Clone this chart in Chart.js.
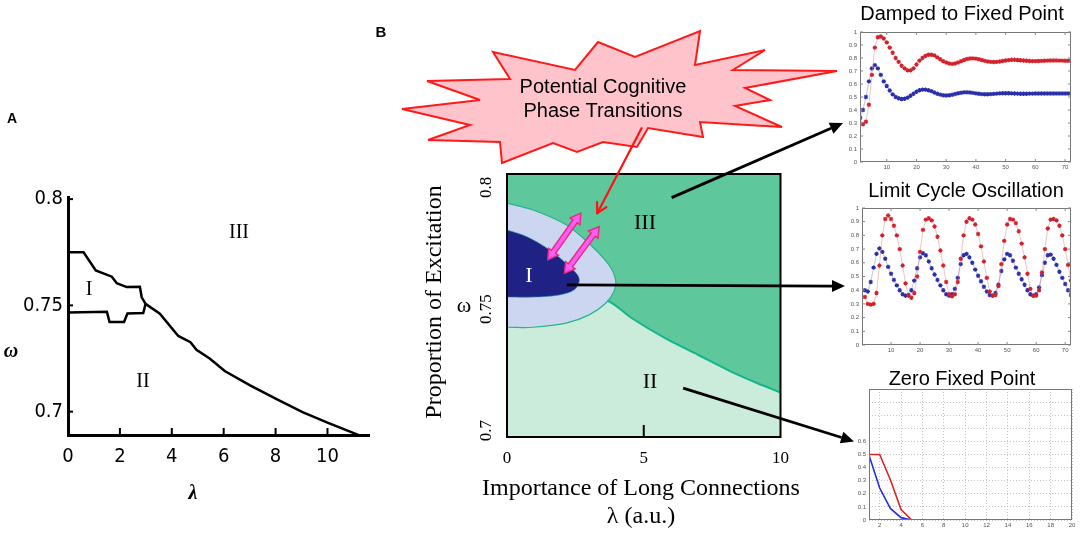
<!DOCTYPE html>
<html>
<head>
<meta charset="utf-8">
<script src="https://cdn.jsdelivr.net/npm/chart.js@4.4.1/dist/chart.umd.min.js"></script>
<style>
  body { margin: 0; width: 1084px; height: 535px; background: #fff; position: relative; overflow: hidden; }
  canvas { position: absolute; }
  .t { position: absolute; white-space: nowrap; line-height: 1; transform: translate(-50%, -50%); }
  .serif { font-family: "Liberation Serif", "Times New Roman", serif; }
  .sans { font-family: "Liberation Sans", Arial, sans-serif; }
</style>
</head>
<body>

<svg id="burst" width="1084" height="535" style="position:absolute;left:0;top:0">
  <polygon fill="#ffc3cc" stroke="#ff1a1a" stroke-width="2" stroke-linejoin="miter"
    points="402,109 480,100 427,81 510,79 493,52 575,70 598,42 635,57 700,31 695,65 765,50 733,70 837,71 745,88 770,100 735,106 782,127 700,122 703,137 648,128 637,147 603,142 577,152 553,143 502,163 500,142 428,140 470,125"/>
</svg>

<canvas id="chartA" width="380" height="300" style="left:0;top:180px"></canvas>
<canvas id="chartB" width="330" height="320" style="left:470px;top:150px"></canvas>
<canvas id="chartDamped" width="244" height="150" style="left:840px;top:22px"></canvas>
<canvas id="chartLimit" width="244" height="155" style="left:840px;top:200px"></canvas>
<canvas id="chartZero" width="244" height="150" style="left:840px;top:380px"></canvas>
<canvas id="overlay" width="1084" height="535" style="left:0;top:0;pointer-events:none"></canvas>

<div class="t sans" style="left:12px;top:118px;font-size:14px;font-weight:bold">A</div>
<div class="t sans" style="left:381px;top:31px;font-size:15px;font-weight:bold">B</div>

<div class="t serif" style="left:239px;top:231px;font-size:20px">III</div>
<div class="t serif" style="left:89px;top:288px;font-size:20px">I</div>
<div class="t serif" style="left:143px;top:380px;font-size:20px">II</div>
<div class="t serif" style="left:11px;top:350px;font-size:20px;font-style:italic;font-weight:bold">ω</div>
<div class="t serif" style="left:193px;top:492px;font-size:20px;font-style:italic;font-weight:bold">λ</div>

<div class="t sans" style="left:603px;top:86px;font-size:20px">Potential Cognitive</div>
<div class="t sans" style="left:603px;top:110px;font-size:20px">Phase Transitions</div>

<div class="t serif" style="left:529px;top:275px;font-size:22px;color:#fff">I</div>
<div class="t serif" style="left:645px;top:222px;font-size:22px">III</div>
<div class="t serif" style="left:650px;top:381px;font-size:22px">II</div>
<div class="t serif" style="left:641px;top:487px;font-size:24px">Importance of Long Connections</div>
<div class="t serif" style="left:641px;top:515px;font-size:24px">λ (a.u.)</div>
<div class="t serif" style="left:433px;top:302px;font-size:24px;transform:translate(-50%,-50%) rotate(-90deg)">Proportion of Excitation</div>
<div class="t serif" style="left:464px;top:305px;font-size:22px">ω</div>

<div class="t sans" style="left:962px;top:13px;font-size:20px">Damped to Fixed Point</div>
<div class="t sans" style="left:966px;top:190px;font-size:20px">Limit Cycle Oscillation</div>
<div class="t sans" style="left:962px;top:378px;font-size:20px">Zero Fixed Point</div>

<script>
// ---- panel A: phase boundaries (lambda, omega)
const upperILambda = [0, 0.6, 1.07, 1.69, 1.88, 2.26, 2.77, 2.84, 2.99];
const upperIOmega = [0.775, 0.775, 0.7664, 0.7635, 0.7604, 0.7586, 0.7587, 0.7538, 0.7507];
const lowerILambda = [0, 1.5, 1.6, 2.16, 2.29, 2.9, 2.99];
const lowerIOmega = [0.7467, 0.747, 0.7422, 0.7422, 0.7462, 0.7464, 0.7507];
const mainLambda = [2.99, 3.54, 4.25, 4.72, 4.95, 5.46, 6.04, 7.0, 8.02, 9.04, 10.0, 11.28];
const mainOmega = [0.7507, 0.7461, 0.7356, 0.7327, 0.7291, 0.725, 0.7191, 0.7125, 0.706, 0.6998, 0.6948, 0.6886];
const ticksALambda = [0, 2, 4, 6, 8, 10];
const ticksAOmega = [0.7, 0.75, 0.8];

// ---- panel B: schematic regions (lambda, omega)
const borderIIIIILambda = [0, 2, 3.73, 4.57, 5.78, 6.98, 8.19, 9.16, 10];
const borderIIIIIOmega = [0.765, 0.759, 0.7531, 0.7462, 0.738, 0.7312, 0.7243, 0.7195, 0.7157];
const haloLambda = [0, 0.95, 2.16, 3.12, 3.73, 3.97, 3.91, 3.61, 3.0, 2.16, 0.95, 0];
const haloOmega = [0.7935, 0.7907, 0.7846, 0.7756, 0.7681, 0.762, 0.7572, 0.7524, 0.7476, 0.7442, 0.7425, 0.7425];
const regionILambda = [0, 0.71, 1.56, 2.16, 2.58, 2.64, 2.46, 1.92, 0.95, 0];
const regionIOmega = [0.7825, 0.7798, 0.7743, 0.7688, 0.764, 0.7613, 0.7579, 0.7558, 0.7549, 0.7549];
const ticksBLambda = [0, 5, 10];
const ticksBOmega = [0.7, 0.75, 0.8];

// ---- right column: time series
const dampedRed = [0.34, 0.29, 0.31, 0.44, 0.67, 0.88, 0.96, 0.965, 0.95, 0.92,
  0.88, 0.84, 0.80, 0.77, 0.74, 0.72, 0.705, 0.705, 0.72, 0.75,
  0.78, 0.80, 0.815, 0.825, 0.825, 0.82, 0.805, 0.79, 0.775, 0.765,
  0.758, 0.755, 0.758, 0.765, 0.775, 0.785, 0.792, 0.796, 0.797, 0.795,
  0.79, 0.785, 0.778, 0.773, 0.77, 0.769, 0.77, 0.773, 0.777, 0.781,
  0.784, 0.786, 0.786, 0.785, 0.783, 0.781, 0.779, 0.777, 0.776, 0.776,
  0.777, 0.778, 0.779, 0.78, 0.781, 0.781, 0.781, 0.78, 0.78, 0.779, 0.779, 0.779];
const dampedBlue = [0.34, 0.40, 0.50, 0.62, 0.72, 0.745, 0.72, 0.67, 0.62, 0.585,
  0.55, 0.52, 0.50, 0.49, 0.485, 0.487, 0.495, 0.51, 0.525, 0.54,
  0.552, 0.557, 0.557, 0.552, 0.545, 0.535, 0.525, 0.518, 0.513, 0.512,
  0.513, 0.517, 0.523, 0.529, 0.533, 0.536, 0.536, 0.535, 0.532, 0.528,
  0.525, 0.522, 0.521, 0.521, 0.522, 0.524, 0.526, 0.528, 0.529, 0.529,
  0.529, 0.528, 0.527, 0.526, 0.525, 0.525, 0.525, 0.526, 0.526, 0.527,
  0.527, 0.527, 0.527, 0.527, 0.527, 0.527, 0.527, 0.527, 0.527, 0.527, 0.527, 0.527];
const limitRed = [0.35, 0.30, 0.295, 0.30, 0.38, 0.58, 0.80, 0.92, 0.945, 0.92,
  0.87, 0.80, 0.70, 0.58, 0.45, 0.36, 0.345, 0.38, 0.50, 0.68,
  0.84, 0.915, 0.925, 0.91, 0.865, 0.79, 0.69, 0.58, 0.46, 0.37,
  0.355, 0.37, 0.46, 0.63, 0.80, 0.90, 0.925, 0.915, 0.88, 0.81,
  0.72, 0.61, 0.49, 0.39, 0.36, 0.365, 0.43, 0.59, 0.76, 0.88,
  0.92, 0.915, 0.89, 0.83, 0.74, 0.64, 0.52, 0.41, 0.36, 0.36,
  0.40, 0.53, 0.70, 0.85, 0.915, 0.92, 0.91, 0.87, 0.80, 0.70, 0.585, 0.47];
const limitBlue = [0.40, 0.39, 0.46, 0.565, 0.665, 0.705, 0.68, 0.63, 0.57, 0.52,
  0.475, 0.435, 0.40, 0.37, 0.36, 0.365, 0.40, 0.47, 0.56, 0.64,
  0.67, 0.655, 0.61, 0.56, 0.515, 0.475, 0.435, 0.40, 0.37, 0.36,
  0.37, 0.41, 0.49, 0.59, 0.655, 0.665, 0.64, 0.60, 0.55, 0.505,
  0.465, 0.425, 0.39, 0.365, 0.36, 0.38, 0.44, 0.54, 0.625, 0.665,
  0.655, 0.615, 0.565, 0.52, 0.48, 0.44, 0.40, 0.37, 0.36, 0.37,
  0.42, 0.51, 0.60, 0.655, 0.66, 0.63, 0.585, 0.535, 0.49, 0.445, 0.40, 0.365];
const zeroRed = [0.5, 0.5, 0.307, 0.08, 0, 0, 0, 0, 0, 0, 0, 0, 0];
const zeroBlue = [0.495, 0.244, 0.088, 0.018, 0, 0, 0, 0];
const ticksTime = [10, 20, 30, 40, 50, 60, 70];
const ticksZeroTime = [2, 4, 6, 8, 10, 12, 14, 16, 18, 20];

const SERIF = '"Liberation Serif", "Times New Roman", serif';
const NARROW = '"Liberation Sans Narrow", "Arial Narrow", "DejaVu Sans Condensed", sans-serif';
const SANS = '"Liberation Sans", Arial, sans-serif';

function zip(xs, ys) { return xs.map((x, i) => ({ x: x, y: ys[i] })); }
function series(vals) { return vals.map((v, i) => ({ x: i + 1, y: v })); }
function fixTicks(list) { return function (s) { s.ticks = list.map(v => ({ value: v })); }; }

const quiet = { legend: { display: false }, tooltip: { enabled: false } };

// ---------------- panel A
const insideTicksA = {
  id: 'insideTicksA',
  afterDraw(chart) {
    const ctx = chart.ctx, a = chart.chartArea, sx = chart.scales.x, sy = chart.scales.y;
    ctx.save();
    ctx.strokeStyle = '#000';
    ctx.lineWidth = 2;
    ticksALambda.slice(1).forEach(v => {
      const px = sx.getPixelForValue(v);
      ctx.beginPath(); ctx.moveTo(px, a.bottom); ctx.lineTo(px, a.bottom - 7); ctx.stroke();
    });
    ticksAOmega.forEach(v => {
      const py = sy.getPixelForValue(v);
      ctx.beginPath(); ctx.moveTo(a.left, py); ctx.lineTo(a.left + 5, py); ctx.stroke();
    });
    ctx.restore();
  }
};

const lineA = { showLine: true, borderColor: '#000', borderWidth: 2.5, pointRadius: 0, fill: false };
const chartA = new Chart(document.getElementById('chartA'), {
  type: 'scatter',
  data: {
    datasets: [
      Object.assign({ data: zip(upperILambda, upperIOmega) }, lineA),
      Object.assign({ data: zip(lowerILambda, lowerIOmega) }, lineA),
      Object.assign({ data: zip(mainLambda, mainOmega) }, lineA)
    ]
  },
  options: {
    responsive: false, animation: false,
    plugins: quiet,
    layout: { padding: { top: 13, right: 11, left: 0, bottom: 0 } },
    scales: {
      x: {
        type: 'linear', min: 0, max: 11.6,
        afterBuildTicks: fixTicks(ticksALambda),
        afterFit: s => { s.height = 45; },
        grid: { display: false, drawTicks: false },
        border: { display: true, color: '#000', width: 3 },
        ticks: { color: '#000', padding: 10, font: { family: NARROW, size: 20 }, callback: v => String(v) }
      },
      y: {
        min: 0.689, max: 0.801,
        afterBuildTicks: fixTicks(ticksAOmega),
        afterFit: s => { s.width = 68; },
        grid: { display: false, drawTicks: false },
        border: { display: true, color: '#000', width: 3 },
        ticks: { color: '#000', padding: 5, font: { family: NARROW, size: 20 }, callback: v => String(v) }
      }
    }
  },
  plugins: [insideTicksA]
});

// ---------------- panel B
const frameB = {
  id: 'frameB',
  afterDraw(chart) {
    const ctx = chart.ctx, a = chart.chartArea, sx = chart.scales.x, sy = chart.scales.y;
    ctx.save();
    ctx.strokeStyle = '#000';
    ctx.lineWidth = 2;
    ctx.strokeRect(a.left, a.top, a.right - a.left, a.bottom - a.top);
    const px = sx.getPixelForValue(5);
    ctx.beginPath(); ctx.moveTo(px, a.bottom); ctx.lineTo(px, a.bottom - 12); ctx.stroke();
    ctx.fillStyle = '#000';
    ctx.font = '17px ' + SERIF;
    ctx.textAlign = 'center';
    ctx.textBaseline = 'middle';
    ticksBOmega.forEach(v => {
      ctx.save();
      ctx.translate(a.left - 20, sy.getPixelForValue(v));
      ctx.rotate(-Math.PI / 2);
      ctx.fillText(String(v), 0, 0);
      ctx.restore();
    });
    ctx.restore();
  }
};

const chartB = new Chart(document.getElementById('chartB'), {
  type: 'scatter',
  data: {
    datasets: [
      { data: zip(regionILambda, regionIOmega), showLine: true, fill: 'shape', tension: 0.35,
        backgroundColor: '#1f2184', borderColor: 'rgba(40,150,170,0.6)', borderWidth: 1, pointRadius: 0, order: 1 },
      { data: zip(haloLambda, haloOmega), showLine: true, fill: 'shape', tension: 0.35,
        backgroundColor: '#cdd6f1', borderColor: '#26b48e', borderWidth: 1.2, pointRadius: 0, order: 2 },
      { data: zip(borderIIIIILambda, borderIIIIIOmega), showLine: true, fill: 'start', tension: 0.3,
        backgroundColor: '#cbecdb', borderColor: '#14b58c', borderWidth: 2, pointRadius: 0, order: 3 },
      { data: zip(borderIIIIILambda, borderIIIIIOmega), showLine: true, fill: 'end', tension: 0.3,
        backgroundColor: '#5ec79b', borderColor: 'rgba(0,0,0,0)', borderWidth: 0, pointRadius: 0, order: 4 }
    ]
  },
  options: {
    responsive: false, animation: false,
    plugins: quiet,
    layout: { padding: { top: 24, right: 16.7, left: 0, bottom: 0 } },
    scales: {
      x: {
        type: 'linear', min: 0, max: 10,
        afterBuildTicks: fixTicks(ticksBLambda),
        afterFit: s => { s.height = 33; },
        grid: { display: false, drawTicks: false },
        border: { display: false },
        ticks: { color: '#000', padding: 11, font: { family: SERIF, size: 17 }, callback: v => String(v) }
      },
      y: {
        min: 0.6974, max: 0.8055,
        afterBuildTicks: fixTicks(ticksBOmega),
        afterFit: s => { s.width = 37; },
        grid: { display: false, drawTicks: false },
        border: { display: false },
        ticks: { display: false }
      }
    }
  },
  plugins: [frameB]
});

// ---------------- right column
const boxPlot = {
  id: 'boxPlot',
  afterDraw(chart, args, opts) {
    const ctx = chart.ctx, a = chart.chartArea;
    ctx.save();
    ctx.strokeStyle = '#777';
    ctx.lineWidth = 1;
    ctx.strokeRect(a.left + 0.5, a.top + 0.5, a.right - a.left - 1, a.bottom - a.top - 1);
    if (opts.inside) {
      ctx.strokeStyle = '#888';
      chart.scales.x.ticks.forEach(t => {
        const px = chart.scales.x.getPixelForValue(t.value);
        ctx.beginPath(); ctx.moveTo(px, a.bottom); ctx.lineTo(px, a.bottom - 3); ctx.stroke();
        ctx.beginPath(); ctx.moveTo(px, a.top); ctx.lineTo(px, a.top + 3); ctx.stroke();
      });
      chart.scales.y.ticks.forEach(t => {
        const py = chart.scales.y.getPixelForValue(t.value);
        ctx.beginPath(); ctx.moveTo(a.left, py); ctx.lineTo(a.left + 3, py); ctx.stroke();
        ctx.beginPath(); ctx.moveTo(a.right, py); ctx.lineTo(a.right - 3, py); ctx.stroke();
      });
    }
    ctx.restore();
  }
};

function smallScales(xMin, xMax, xTicks, yWidth, maxLabel, gridOn) {
  const tickFont = { family: SANS, size: 6 };
  return {
    x: {
      type: 'linear', min: xMin, max: xMax,
      afterBuildTicks: fixTicks(xTicks),
      afterFit: s => { s.height = 10; },
      grid: { display: gridOn, color: '#c4c4c4', drawTicks: false },
      border: { display: false, dash: [1, 2] },
      ticks: { color: '#555', padding: 2, maxRotation: 0, font: tickFont, callback: v => String(v) }
    },
    y: {
      min: 0, max: 1,
      ticks: { stepSize: 0.1, color: '#555', padding: 3, font: tickFont,
        callback: v => (v > maxLabel + 1e-6 ? '' : String(+v.toFixed(1))) },
      afterFit: s => { s.width = yWidth; },
      grid: { display: gridOn, color: '#c4c4c4', drawTicks: false },
      border: { display: false, dash: [1, 2] }
    }
  };
}

function markerSet(vals, mark, line) {
  return { data: series(vals), showLine: true, borderColor: line, borderWidth: 0.8,
    pointStyle: 'star', pointRadius: 2.2, pointBorderColor: mark, pointBorderWidth: 1.1,
    pointBackgroundColor: mark };
}

const chartDamped = new Chart(document.getElementById('chartDamped'), {
  type: 'scatter',
  data: { datasets: [
    markerSet(dampedRed, '#d3202a', 'rgba(225,120,120,0.55)'),
    markerSet(dampedBlue, '#2a2ea8', 'rgba(120,120,210,0.55)')
  ] },
  options: { responsive: false, animation: false, plugins: Object.assign({ boxPlot: { inside: true } }, quiet),
    layout: { padding: { top: 10, right: 13, left: 0, bottom: 0 } },
    scales: smallScales(1, 72, ticksTime, 20, 1, false) },
  plugins: [boxPlot]
});

const chartLimit = new Chart(document.getElementById('chartLimit'), {
  type: 'scatter',
  data: { datasets: [
    markerSet(limitRed, '#d3202a', 'rgba(225,120,120,0.55)'),
    markerSet(limitBlue, '#2a2ea8', 'rgba(120,120,210,0.55)')
  ] },
  options: { responsive: false, animation: false, plugins: Object.assign({ boxPlot: { inside: true } }, quiet),
    layout: { padding: { top: 8, right: 13, left: 0, bottom: 0 } },
    scales: smallScales(0, 72, ticksTime, 22, 1, false) },
  plugins: [boxPlot]
});

const chartZero = new Chart(document.getElementById('chartZero'), {
  type: 'scatter',
  data: { datasets: [
    { data: series(zeroRed), showLine: true, borderColor: '#d82424', borderWidth: 1.6, pointRadius: 0 },
    { data: series(zeroBlue), showLine: true, borderColor: '#2430d8', borderWidth: 1.6, pointRadius: 0 }
  ] },
  options: { responsive: false, animation: false, plugins: Object.assign({ boxPlot: { inside: false } }, quiet),
    layout: { padding: { top: 9, right: 12, left: 0, bottom: 0 } },
    scales: smallScales(1, 20, ticksZeroTime, 29, 0.6, true) },
  plugins: [boxPlot]
});

// ---------------- annotation arrows (anchored to the chart scales)
function pageOf(chart, canvasId, xv, yv) {
  const el = document.getElementById(canvasId);
  return [el.offsetLeft + chart.scales.x.getPixelForValue(xv), el.offsetTop + chart.scales.y.getPixelForValue(yv)];
}
function leftOf(chart, canvasId, gap, yv) {
  const el = document.getElementById(canvasId);
  return [el.offsetLeft + chart.chartArea.left - gap, el.offsetTop + chart.scales.y.getPixelForValue(yv)];
}

const ov = document.getElementById('overlay').getContext('2d');

function blackArrow(p0, p1) {
  const a = Math.atan2(p1[1] - p0[1], p1[0] - p0[0]);
  const len = 13, half = 6;
  const bx = p1[0] - len * Math.cos(a), by = p1[1] - len * Math.sin(a);
  ov.strokeStyle = '#000'; ov.fillStyle = '#000'; ov.lineWidth = 2.8;
  ov.beginPath(); ov.moveTo(p0[0], p0[1]); ov.lineTo(bx, by); ov.stroke();
  ov.beginPath();
  ov.moveTo(p1[0], p1[1]);
  ov.lineTo(bx - Math.sin(a) * half, by + Math.cos(a) * half);
  ov.lineTo(bx + Math.sin(a) * half, by - Math.cos(a) * half);
  ov.closePath(); ov.fill();
}

function redArrow(p0, p1) {
  const a = Math.atan2(p1[1] - p0[1], p1[0] - p0[0]);
  ov.strokeStyle = '#ff1212'; ov.lineWidth = 2.2; ov.lineCap = 'round';
  ov.beginPath(); ov.moveTo(p0[0], p0[1]); ov.lineTo(p1[0], p1[1]); ov.stroke();
  [0.5, -0.5].forEach(d => {
    ov.beginPath(); ov.moveTo(p1[0], p1[1]);
    ov.lineTo(p1[0] - 11 * Math.cos(a + d), p1[1] - 11 * Math.sin(a + d)); ov.stroke();
  });
  ov.lineCap = 'butt';
}

function doubleArrow(p0, p1) {
  const dx = p1[0] - p0[0], dy = p1[1] - p0[1], L = Math.hypot(dx, dy);
  const ux = dx / L, uy = dy / L, nx = -uy, ny = ux;
  const head = 10, hw = 6, sw = 2.6;
  const at = (t, w) => [p0[0] + ux * t + nx * w, p0[1] + uy * t + ny * w];
  const pts = [at(0, 0), at(head, hw), at(head, sw), at(L - head, sw), at(L - head, hw), at(L, 0),
    at(L - head, -hw), at(L - head, -sw), at(head, -sw), at(head, -hw)];
  ov.beginPath();
  pts.forEach((p, i) => (i ? ov.lineTo(p[0], p[1]) : ov.moveTo(p[0], p[1])));
  ov.closePath();
  ov.fillStyle = '#ff5cf6'; ov.fill();
  ov.strokeStyle = '#e8287e'; ov.lineWidth = 1.4; ov.stroke();
}

doubleArrow(pageOf(chartB, 'chartB', 1.49, 0.7702), pageOf(chartB, 'chartB', 2.70, 0.7894));
doubleArrow(pageOf(chartB, 'chartB', 2.10, 0.7647), pageOf(chartB, 'chartB', 3.37, 0.7839));
redArrow(pageOf(chartB, 'chartB', 4.92, 0.8243), pageOf(chartB, 'chartB', 3.30, 0.7894));
blackArrow(pageOf(chartB, 'chartB', 6.02, 0.7958), leftOf(chartDamped, 'chartDamped', 17, 0.30));
blackArrow(pageOf(chartB, 'chartB', 2.19, 0.7599), leftOf(chartLimit, 'chartLimit', 17, 0.43));
blackArrow(pageOf(chartB, 'chartB', 6.44, 0.7175), leftOf(chartZero, 'chartZero', 15, 0.60));
</script>
</body>
</html>
